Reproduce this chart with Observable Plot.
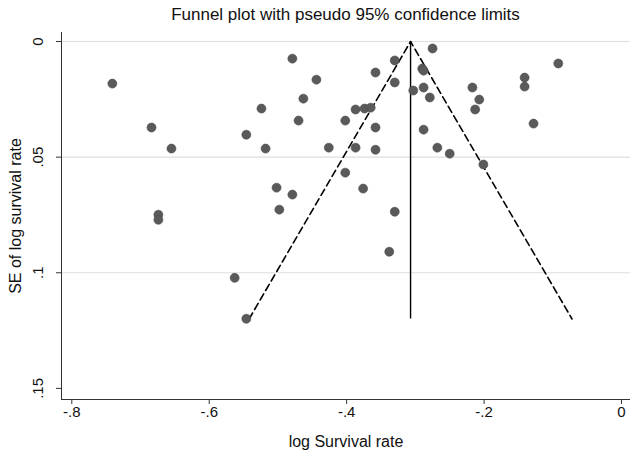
<!DOCTYPE html>
<html>
<head>
<meta charset="utf-8">
<script src="https://cdn.jsdelivr.net/npm/d3@7"></script>
<script src="https://cdn.jsdelivr.net/npm/@observablehq/plot@0.6"></script>
<style>
  html, body { margin: 0; padding: 0; background: #fff; }
  #title { box-sizing: border-box; width: 640px; height: 28px; line-height: 30px; padding-left: 61px; padding-right: 10px;
           text-align: center; font-family: "Liberation Sans", Arial, sans-serif; font-size: 17px; color: #111; }
</style>
</head>
<body>
<div id="title">Funnel plot with pseudo 95% confidence limits</div>
<div id="chart"></div>
<script>
// ---- data ----
const logRate = [-0.741, -0.684, -0.655, -0.546, -0.524, -0.518, -0.479, -0.444, -0.463, -0.470,
  -0.426, -0.402, -0.387, -0.374, -0.365, -0.358, -0.330, -0.330, -0.387, -0.358,
  -0.358, -0.402, -0.376, -0.330, -0.338, -0.303, -0.288, -0.279, -0.288, -0.275,
  -0.290, -0.288, -0.268, -0.250, -0.201, -0.217, -0.207, -0.213, -0.141, -0.141,
  -0.092, -0.128, -0.502, -0.498, -0.479, -0.674, -0.674, -0.563, -0.546];
const seLogRate = [0.0182, 0.0372, 0.0463, 0.0403, 0.0290, 0.0463, 0.0074, 0.0165, 0.0247, 0.0342,
  0.0459, 0.0342, 0.0294, 0.0290, 0.0286, 0.0134, 0.0082, 0.0177, 0.0459, 0.0372,
  0.0468, 0.0567, 0.0636, 0.0736, 0.0909, 0.0212, 0.0199, 0.0242, 0.0381, 0.0030,
  0.0117, 0.0126, 0.0459, 0.0485, 0.0532, 0.0199, 0.0251, 0.0294, 0.0156, 0.0195,
  0.0095, 0.0355, 0.0632, 0.0727, 0.0662, 0.0749, 0.0771, 0.1022, 0.1199];
const funnelX = [-0.542, -0.307, -0.072];
const funnelSE = [0.12, 0, 0.12];
const pooledEstimate = [-0.307];
const pooledSE = [0, 0.12];
const xTicks = [-0.8, -0.6, -0.4, -0.2, 0];
const yTicks = [0, 0.05, 0.1, 0.15];
const gridSE = [0, 0.05, 0.1];
const xDomain = [-0.815, 0.0131];
const yDomain = [-0.0039, 0.1548];

const fmt = d => d === 0 ? "0" : String(d).replace(/^(-?)0\./, "$1.");
const points = logRate.map((x, i) => ({x, se: seLogRate[i]}));
const funnel = funnelX.map((x, i) => ({x, se: funnelSE[i]}));
const font = "Liberation Sans, Arial, sans-serif";

const chart = Plot.plot({
  width: 640, height: 435,
  marginTop: 4, marginBottom: 64, marginLeft: 61, marginRight: 10,
  style: {fontFamily: font, background: "#fff", color: "#111", overflow: "visible"},
  x: {domain: xDomain, axis: null},
  y: {domain: yDomain, reverse: true, axis: null},
  marks: [
    Plot.ruleY(gridSE, {stroke: "#dedede", strokeWidth: 1.2}),
    Plot.ruleX([xDomain[0]], {y1: yDomain[0], y2: yDomain[1], stroke: "#333", strokeWidth: 1}),
    Plot.ruleY([yDomain[1]], {x1: xDomain[0], x2: xDomain[1], stroke: "#333", strokeWidth: 1}),
    Plot.axisX({ticks: xTicks, tickSize: 5, tickFormat: () => "", label: null, stroke: "#333"}),
    Plot.axisY({ticks: yTicks, tickSize: 5, tickFormat: () => "", label: null, stroke: "#333"}),
    Plot.text(xTicks, {x: d => d, frameAnchor: "bottom", dy: 13, text: fmt, fontSize: 15, lineAnchor: "middle", fill: "#111"}),
    Plot.text(yTicks, {y: d => d, frameAnchor: "left", dx: -23, rotate: -90, text: fmt, fontSize: 15, textAnchor: "middle", lineAnchor: "middle", fill: "#111"}),
    Plot.text(["log Survival rate"], {frameAnchor: "bottom", dy: 42, fontSize: 16, lineAnchor: "middle", fill: "#111"}),
    Plot.text(["SE of log survival rate"], {frameAnchor: "left", dx: -46, rotate: -90, fontSize: 16, textAnchor: "middle", lineAnchor: "middle", fill: "#111"}),
    Plot.line(funnel, {x: "x", y: "se", stroke: "#000", strokeWidth: 1.6, strokeDasharray: "7,4"}),
    Plot.ruleX(pooledEstimate, {y1: pooledSE[0], y2: pooledSE[1], stroke: "#000", strokeWidth: 1.4}),
    Plot.dot(points, {x: "x", y: "se", r: 4.5, fill: "#5a5a5a", stroke: "#4a4a4a", strokeWidth: 0.6})
  ]
});
document.getElementById("chart").appendChild(chart);
</script>
</body>
</html>
